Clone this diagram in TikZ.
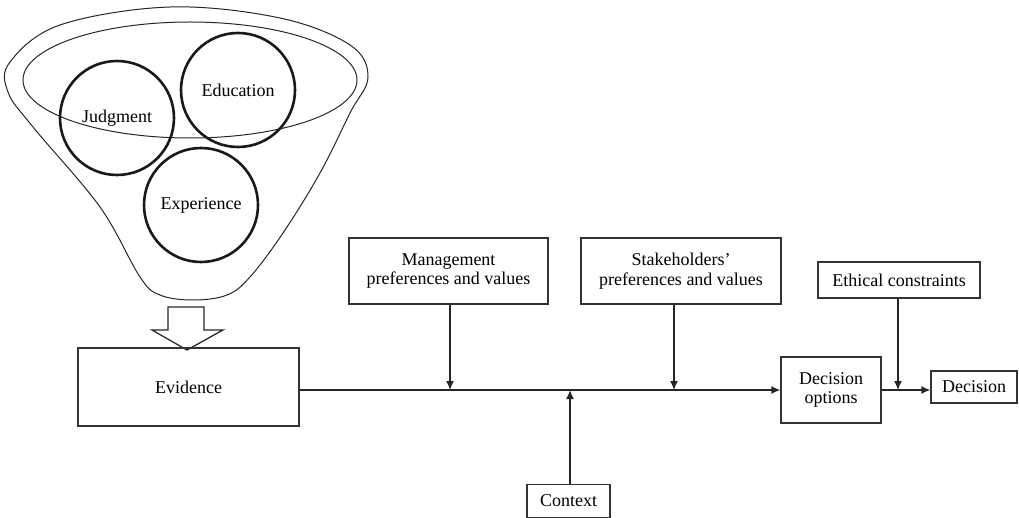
\documentclass[tikz,border=0pt]{standalone}
\usepackage{fontspec}
\setmainfont{Liberation Serif}
\usetikzlibrary{arrows.meta,shapes.geometric}
\begin{document}
\begin{tikzpicture}[x=1pt,y=-1pt,
  box/.style={draw=black!80,line width=1.3pt,align=center,font=\fontsize{18}{19.5}\selectfont,inner sep=0pt},
  ring/.style={draw=black!90,circle,line width=2.6pt,minimum size=114pt,inner sep=0pt,font=\fontsize{18}{20}\selectfont},
  arr/.style={line width=1.3pt,draw=black!85,-{Latex[length=9pt,width=8pt]}},
  ln/.style={line width=1.3pt,draw=black!85}]
\useasboundingbox (0,0) rectangle (1019,518);
% funnel
\draw[line width=1pt,black!85] plot[smooth cycle,tension=0.6] coordinates {
 (193,300) (160,295) (140,277) (100,207) (33,127) (8,92) (10,62) (60,25) (170,7) (280,18) (350,45) (368,77)
 (350,113) (320,173) (283,233) (250,277) (227,295)};
\draw[line width=1pt,black!85] (190,80) ellipse [x radius=167,y radius=58];
\node[ring] (judg) at (117,118) {Judgment};
\node[ring] (edu) at (238,90) {Education};
\node[ring] (exp) at (201,205) {Experience};
% block arrow
\draw[line width=1.3pt,black!85,line join=miter] (168,307) -- (204,307) -- (204,330) -- (223,330) -- (187,350) -- (152,330) -- (168,330) -- cycle;
% boxes
\node[box,minimum width=221pt,minimum height=78pt] (evid) at (188.5,387) {Evidence};
\node[box,minimum width=199pt,minimum height=66pt] (mgmt) at (448.5,271) {Management\\preferences and values};
\node[box,minimum width=200pt,minimum height=66pt] (stake) at (681,271) {Stakeholders’\\preferences and values};
\node[box,minimum width=83pt,minimum height=33pt] (ctx) at (568.5,501) {Context};
\node[box,minimum width=100pt,minimum height=66pt] (opts) at (831,390) {Decision\\options};
\node[box,minimum width=162pt,minimum height=36pt] (eth) at (899,280) {Ethical constraints};
\node[box,minimum width=86pt,minimum height=32pt] (dec) at (974,387) {Decision};
% main line
\coordinate (m1) at (450,390);
\coordinate (c1) at (570,390);
\coordinate (s1) at (674,390);
\coordinate (e1) at (898,390);
\draw[arr] (evid.east |- c1) -- (opts.west |- c1);
\draw[arr] (mgmt.south -| m1) -- (m1);
\draw[arr] (stake.south -| s1) -- (s1);
\draw[arr] (ctx.north -| c1) -- (c1);
\draw[arr] (opts.east |- e1) -- (dec.west |- e1);
\draw[arr] (eth.south -| e1) -- (e1);
\end{tikzpicture}
\end{document}
